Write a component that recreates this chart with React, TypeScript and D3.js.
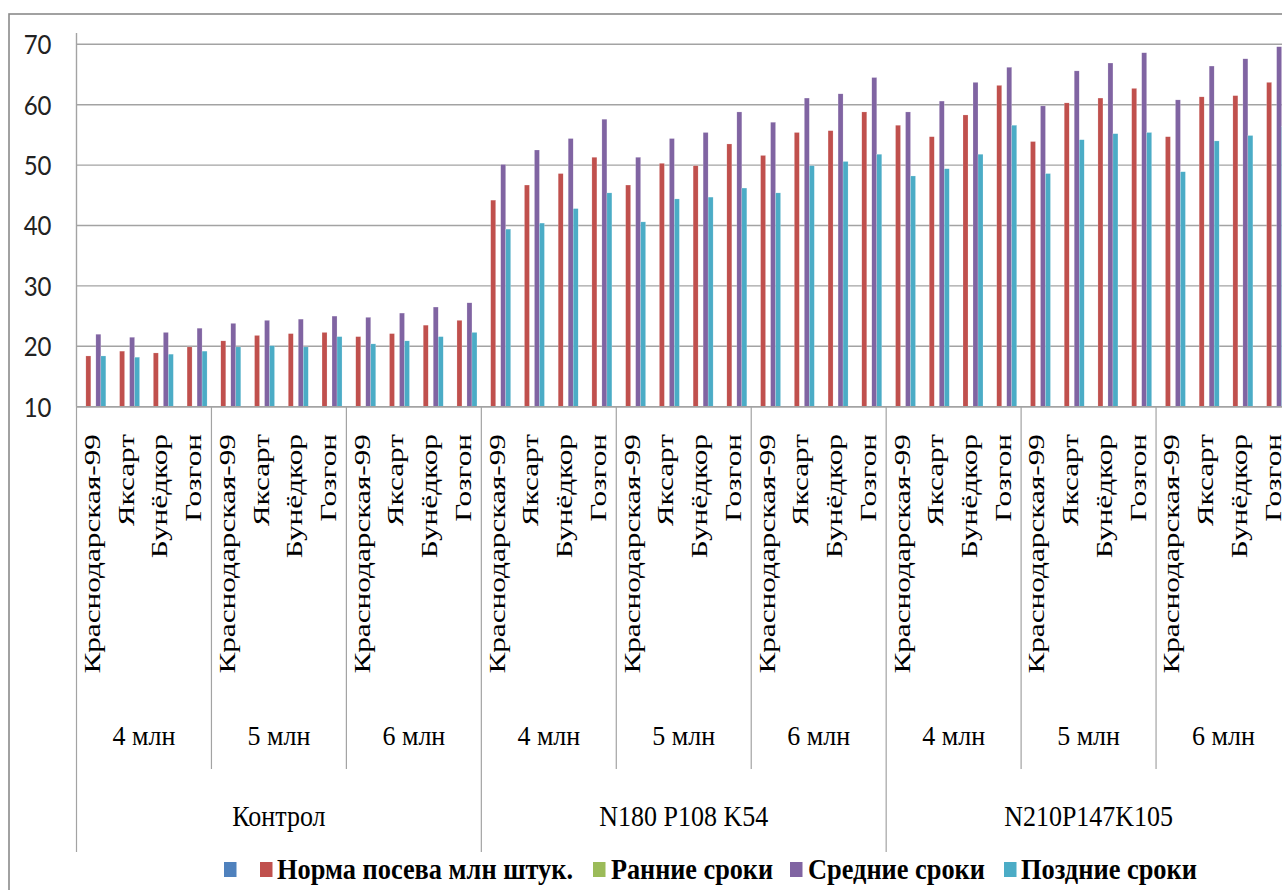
import React from "react";
import * as d3 from "d3";

// Grouping of the category axis: fertilizer → sowing density → variety
const fertilizers = ["Контрол", "N180 P108 K54", "N210P147K105"];
const densities = ["4 млн", "5 млн", "6 млн"];
const varieties = ["Краснодарская-99", "Яксарт", "Бунёдкор", "Гозгон"];

// Series values, one per category (36 = 3 × 3 × 4)
const blankSeries: number[] = [];
const normaValues = [
  18.4, 19.2, 18.9, 19.9, 20.9, 21.8, 22.1, 22.3, 21.6, 22.1, 23.5, 24.3,
  44.2, 46.7, 48.6, 51.3, 46.7, 50.3, 49.9, 53.5, 51.6, 55.4, 55.7, 58.8,
  56.6, 54.7, 58.3, 63.2, 53.9, 60.3, 61.1, 62.7, 54.7, 61.3, 61.5, 63.7,
];
const earlyValues: number[] = [];
const midValues = [
  22.0, 21.5, 22.3, 23.0, 23.8, 24.3, 24.5, 25.0, 24.8, 25.5, 26.5, 27.2,
  50.1, 52.5, 54.4, 57.6, 51.3, 54.4, 55.4, 58.8, 57.1, 61.1, 61.8, 64.5,
  58.8, 60.6, 63.7, 66.2, 59.8, 65.6, 66.9, 68.6, 60.8, 66.4, 67.6, 69.6,
];
const lateValues = [
  18.4, 18.2, 18.7, 19.2, 19.9, 20.1, 19.9, 21.6, 20.4, 20.9, 21.6, 22.3,
  39.4, 40.4, 42.8, 45.4, 40.6, 44.4, 44.7, 46.2, 45.4, 49.9, 50.6, 51.8,
  48.2, 49.4, 51.8, 56.6, 48.6, 54.2, 55.2, 55.4, 48.9, 54.0, 54.9, 56.4,
];

const seriesNames = ["", "Норма посева млн штук.", "Ранние сроки", "Средние сроки", "Поздние сроки"];
const seriesColors = ["#4F81BD", "#C0504D", "#9BBB59", "#8064A2", "#4BACC6"];
const seriesData = [blankSeries, normaValues, earlyValues, midValues, lateValues];

const yTicks = [10, 20, 30, 40, 50, 60, 70];

const W = 1282;
const H = 890;
const plotLeft = 76.5;
const plotRight = 1291;
const plotTop = 33;
const axisY = 406.7;

const SERIF = "'Liberation Serif', 'Times New Roman', serif";
const SANS = "Lato, 'Open Sans', sans-serif";

export default function App() {
  const categories = fertilizers.flatMap((f) =>
    densities.flatMap((d) => varieties.map((v) => `${f}|${d}|${v}`))
  );

  const x = d3.scaleBand<string>().domain(categories).range([plotLeft, plotRight]).padding(0);
  const xSeries = d3
    .scaleBand<number>()
    .domain(d3.range(seriesNames.length))
    .range([0, x.bandwidth()])
    .paddingInner(0)
    .paddingOuter(0.873);
  const y = d3.scaleLinear().domain([10, 70]).range([axisY, 44.3]);

  const densityWidth = x.bandwidth() * varieties.length;
  const fertWidth = densityWidth * densities.length;

  const gridColor = "#a3a3a3";

  // legend layout
  const legendItems = [
    { sq: 224, tx: 241, len: 0 },
    { sq: 260, tx: 277, len: 296 },
    { sq: 593, tx: 611, len: 162 },
    { sq: 790, tx: 808, len: 177 },
    { sq: 1004, tx: 1021, len: 176 },
  ];

  return (
    <svg
      width={W}
      height={H}
      style={{ position: "absolute", left: 0, top: 0, display: "block", background: "#fff" }}
    >
      {/* outer chart frame */}
      <rect x={9} y={14} width={W + 20} height={H + 20} fill="#fff" stroke="#8a8a8a" strokeWidth={1.6} />

      {/* horizontal gridlines */}
      {yTicks.map((t) => (
        <line key={t} x1={plotLeft} x2={plotRight} y1={y(t)} y2={y(t)} stroke={gridColor} strokeWidth={1.4} />
      ))}

      {/* y tick labels */}
      {yTicks.map((t) => (
        <text
          key={t}
          transform={`translate(51.5, ${y(t)}) scale(1, 1.15)`}
          dy="0.36em"
          textAnchor="end"
          fontFamily={SANS}
          fontSize={24}
          fill="#222"
        >
          {t}
        </text>
      ))}

      {/* bars */}
      {seriesData.map((vals, si) =>
        vals.map((v, ci) => (
          <rect
            key={`${si}-${ci}`}
            x={(x(categories[ci]) ?? 0) + (xSeries(si) ?? 0)}
            y={y(v)}
            width={xSeries.bandwidth()}
            height={axisY - y(v)}
            fill={seriesColors[si]}
            stroke="#fff"
            strokeOpacity={0.5}
            strokeWidth={0.4}
          />
        ))
      )}

      {/* axes */}
      <line x1={plotLeft} x2={plotLeft} y1={plotTop} y2={axisY} stroke={gridColor} strokeWidth={1.4} />
      <line x1={plotLeft} x2={plotRight} y1={axisY} y2={axisY} stroke={gridColor} strokeWidth={1.4} />

      {/* density separators */}
      {d3.range(fertilizers.length * densities.length + 1).map((i) => {
        const xx = plotLeft + i * densityWidth;
        const isFert = i % densities.length === 0;
        return (
          <line
            key={`sep${i}`}
            x1={xx}
            x2={xx}
            y1={axisY}
            y2={isFert ? 852 : 769}
            stroke={gridColor}
            strokeWidth={1.2}
          />
        );
      })}

      {/* variety labels */}
      {categories.map((c) => {
        const v = c.split("|")[2];
        const cx = (x(c) ?? 0) + x.bandwidth() / 2;
        return (
          <text
            key={c}
            transform={`translate(${cx + 6.5}, 434) rotate(-90) scale(1.36, 1)`}
            textAnchor="end"
            fontFamily={SERIF}
            fontSize={23}
            fill="#000"
          >
            {v}
          </text>
        );
      })}

      {/* density labels */}
      {fertilizers.map((f, fi) =>
        densities.map((d, di) => {
          const cx = plotLeft + fi * fertWidth + di * densityWidth + densityWidth / 2;
          return (
            <text
              key={`${f}${d}`}
              transform={`translate(${cx}, 745) scale(1, 1.08)`}
              textAnchor="middle"
              fontFamily={SERIF}
              fontSize={26}
              fill="#000"
            >
              {d}
            </text>
          );
        })
      )}

      {/* fertilizer labels */}
      {fertilizers.map((f, fi) => {
        const cx = plotLeft + fi * fertWidth + fertWidth / 2;
        return (
          <text
            key={f}
            transform={`translate(${cx}, 826) scale(1, 1.15)`}
            textAnchor="middle"
            fontFamily={SERIF}
            fontSize={26}
            fill="#000"
          >
            {f}
          </text>
        );
      })}

      {/* legend */}
      {legendItems.map((it, i) => (
        <g key={`lg${i}`}>
          <rect x={it.sq} y={862} width={12.5} height={15} fill={seriesColors[i]} />
          {seriesNames[i] && (
            <text
              transform={`translate(${it.tx}, 879) scale(1, 1.12)`}
              fontFamily={SERIF}
              fontWeight="bold"
              fontSize={26}
              textLength={it.len}
              lengthAdjust="spacingAndGlyphs"
              fill="#000"
            >
              {seriesNames[i]}
            </text>
          )}
        </g>
      ))}
    </svg>
  );
}
